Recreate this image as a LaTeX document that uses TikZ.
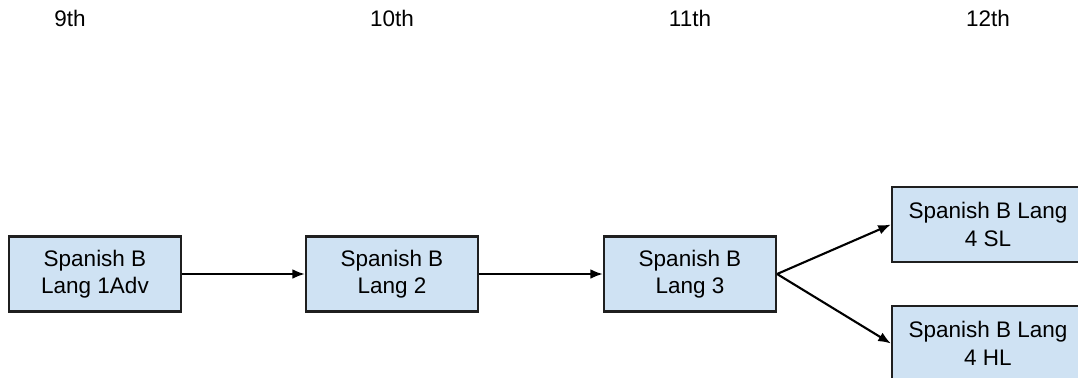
\documentclass[tikz,border=0pt]{standalone}
\usepackage{fontspec}
\setmainfont{Liberation Sans}
\usepackage{tikz}
\usetikzlibrary{arrows.meta}
\definecolor{boxblue}{HTML}{CFE2F3}
\definecolor{edgegray}{HTML}{1F1F1F}

\begin{document}
\begin{tikzpicture}[x=0.025cm,y=-0.025cm,
  course/.style={draw=edgegray,fill=boxblue,line width=1.5pt,minimum width=4.3cm,minimum height=1.875cm,align=center,inner sep=0pt,font=\fontsize{16}{19.5}\selectfont},
  wide/.style={course,minimum width=4.8cm},
  year/.style={font=\fontsize{16}{19.5}\selectfont,inner sep=0pt},
  link/.style={-{Latex[length=9pt,width=7pt]},line width=1.5pt,black}]
\useasboundingbox (0,0) rectangle (1078,377);
\clip (0,0) rectangle (1078,377);

%years
\node[year] (y9) at (70, 18.5) {9th};
\node[year] (y10) at (392, 18.5) {10th};
\node[year] (y11) at (690, 18.5) {11th};
\node[year] (y12) at (988, 18.5) {12th};

%courses
\node[course] (lang1) at (95, 274) {Spanish B\\Lang 1Adv};
\node[course] (lang2) at (392, 274) {Spanish B\\Lang 2};
\node[course] (lang3) at (690, 274) {Spanish B\\Lang 3};
\node[wide] (sl) at (988, 224.5) {Spanish B Lang\\4 SL};
\node[wide] (hl) at (988, 343.5) {Spanish B Lang\\4 HL};

%arrows
\draw [link] (lang1) -- (lang2);
\draw [link] (lang2) -- (lang3);
\draw [link] (lang3.east) -- (sl.west);
\draw [link] (lang3.east) -- (hl.west);
\end{tikzpicture}
\end{document}
